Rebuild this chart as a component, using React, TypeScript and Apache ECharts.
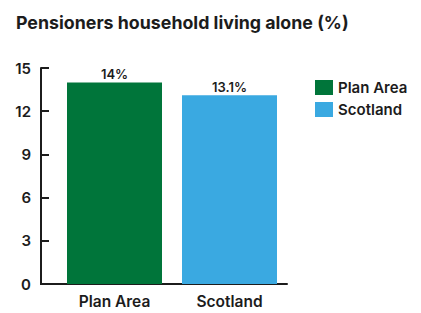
import React, { useEffect, useRef } from "react";
import * as echarts from "echarts";

const title = "Pensioners household living alone (%)";
const categories = ["Plan Area", "Scotland"];
const values = [14, 13.1];
const valueLabels = ["14%", "13.1%"];
const colors = ["#00753a", "#3aa9e1"];
const yTicks = { min: 0, max: 15, interval: 3 };

export default function App() {
  const ref = useRef<HTMLDivElement>(null);
  useEffect(() => {
    if (!ref.current) return;
    const chart = echarts.init(ref.current, null, { renderer: "svg" });
    const font = "Inter, 'Liberation Sans', Arial, sans-serif";
    const ink = "#1c1c1c";
    chart.setOption({
      animation: false,
      textStyle: { fontFamily: font },
      title: {
        text: title,
        left: 3,
        top: 0,
        textStyle: { fontSize: 17.8, fontWeight: 700, color: ink, fontFamily: font },
      },
      legend: {
        orient: "vertical",
        left: 302,
        top: 67,
        itemWidth: 18,
        itemHeight: 15,
        itemGap: 7,
        icon: "rect",
        data: categories,
        textStyle: { fontSize: 15, fontWeight: 600, color: ink, fontFamily: font },
      },
      grid: { left: 49, right: 134, top: 60, bottom: 29, containLabel: false },
      xAxis: {
        type: "category",
        data: categories,
        axisLine: { lineStyle: { color: ink, width: 2 } },
        axisTick: { inside: true, length: 4, lineStyle: { color: ink, width: 2 } },
        axisLabel: { fontSize: 15.5, fontWeight: 600, color: ink, margin: 9, fontFamily: font },
      },
      yAxis: {
        type: "value",
        min: yTicks.min,
        max: yTicks.max,
        interval: yTicks.interval,
        offset: 16,
        splitLine: { show: false },
        axisLine: { show: true, lineStyle: { color: ink, width: 2 } },
        axisTick: { show: true, inside: true, length: 8, lineStyle: { color: ink, width: 2 } },
        axisLabel: { fontSize: 15, fontWeight: 600, color: ink, margin: 10, fontFamily: font },
      },
      graphic: [
        { type: "line", shape: { x1: 32, y1: 276, x2: 50, y2: 276 }, style: { stroke: ink, lineWidth: 2 } },
      ],
      series: categories.map((c, i) => ({
        name: c,
        type: "bar",
        stack: "all",
        barWidth: 95,
        data: categories.map((_, j) => (j === i ? values[i] : null)),
        itemStyle: { color: colors[i] },
        label: {
          show: true,
          position: "top",
          distance: 2,
          formatter: () => valueLabels[i],
          fontSize: 13,
          fontWeight: 600,
          color: ink,
          fontFamily: font,
        },
      })),
    });
    return () => chart.dispose();
  }, []);
  return <div ref={ref} style={{ width: 413, height: 305 }} />;
}
